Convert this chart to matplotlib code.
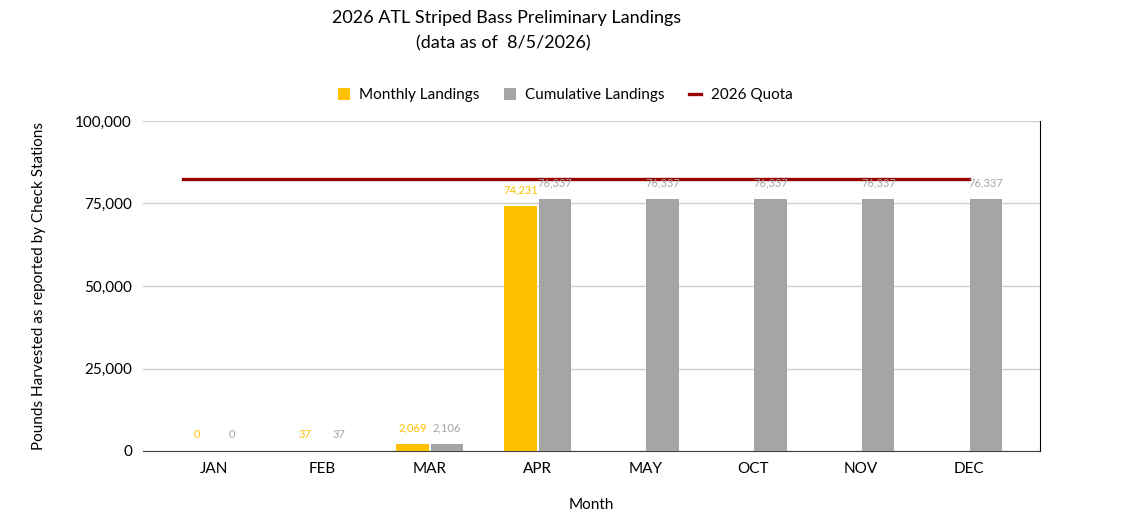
import matplotlib
matplotlib.use('Agg')
import matplotlib.pyplot as plt
import numpy as np
from matplotlib.ticker import FuncFormatter

plt.rcParams['font.family'] = ['Lato', 'DejaVu Sans']

months = ['JAN', 'FEB', 'MAR', 'APR', 'MAY', 'OCT', 'NOV', 'DEC']
monthly = [0, 37, 2069, 74231, None, None, None, None]
cumulative = [0, 37, 2106, 76337, 76337, 76337, 76337, 76337]
quota = [82424, 82424, 82424, 82424, 82424, 82424, 82424, 82424]

yellow = '#FFC000'
grey = '#A5A5A5'
red = '#990000'

fig = plt.figure(figsize=(11.32, 5.31), dpi=100)
ax = fig.add_axes([143/1132, 1 - 451/531, (1040-143)/1132, (451-121)/531])

x = np.arange(len(months))
w = 0.30
off = 0.16

mx = [xi - off for xi, v in zip(x, monthly) if v is not None]
mv = [v for v in monthly if v is not None]
b1 = ax.bar(mx, mv, w, color=yellow, label='Monthly Landings', zorder=3)
b2 = ax.bar(x + off, cumulative, w, color=grey, label='Cumulative Landings', zorder=3)

qx = x.astype(float)
qx[0] = -0.29
l1, = ax.plot(qx, quota, color=red, lw=2.4, label='2026 Quota', zorder=4)

for xi, v in zip(mx, mv):
    ax.text(xi, v + 3300, f'{v:,}', ha='center', va='bottom', fontsize=8, color=yellow, zorder=5)
for xi, v in zip(x + off, cumulative):
    ax.text(xi, v + 3300, f'{v:,}', ha='center', va='bottom', fontsize=8, color=grey, zorder=5)

ax.set_xlim(-0.66, 7.66)
ax.set_ylim(0, 100000)
ax.set_yticks([0, 25000, 50000, 75000, 100000])
ax.yaxis.set_major_formatter(FuncFormatter(lambda v, p: f'{int(v):,}'))
ax.set_xticks(x)
ax.set_xticklabels(months)
ax.tick_params(axis='both', length=0, labelsize=11, colors='black')
ax.tick_params(axis='x', pad=8)
ax.tick_params(axis='y', pad=8)
ax.grid(axis='y', color='#D0D0D0', lw=1, zorder=0)
ax.spines['top'].set_visible(False)
ax.spines['left'].set_visible(False)
ax.spines['right'].set_color('black')
ax.spines['bottom'].set_color('#404040')

ax.set_xlabel('Month', fontsize=11, labelpad=16)
ax.set_ylabel('Pounds Harvested as reported by Check Stations', fontsize=11, labelpad=21)

fig.text(507/1132, 1 - 18/531, '2026 ATL Striped Bass Preliminary Landings', ha='center', va='center', fontsize=13)
fig.text(503/1132, 1 - 43/531, '(data as of  8/5/2026)', ha='center', va='center', fontsize=13)

ax.legend([b1, b2, l1], ['Monthly Landings', 'Cumulative Landings', '2026 Quota'],
          loc='center', bbox_to_anchor=(565/1132, 1 - 95/531), bbox_transform=fig.transFigure,
          ncol=3, frameon=False, fontsize=11, handlelength=0.8, handleheight=0.8,
          columnspacing=1.6, handletextpad=0.6)

fig.savefig('out.png', dpi=100)
